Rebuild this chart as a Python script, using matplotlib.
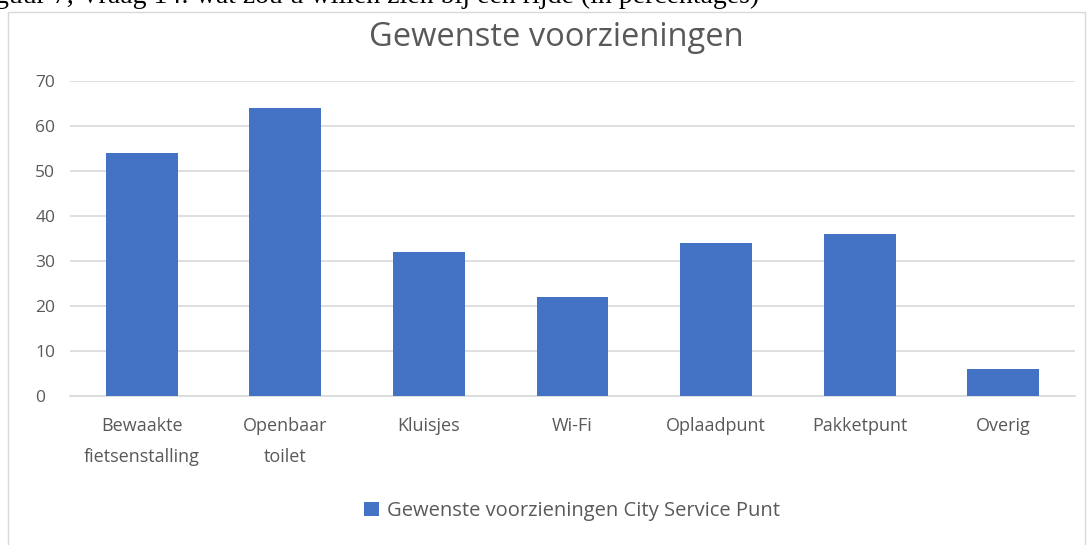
import matplotlib.pyplot as plt
from matplotlib.patches import Rectangle

categories = ['Bewaakte\nfietsenstalling', 'Openbaar\ntoilet', 'Kluisjes', 'Wi-Fi',
              'Oplaadpunt', 'Pakketpunt', 'Overig']
values = [54, 64, 32, 22, 34, 36, 6]
series_name = 'Gewenste voorzieningen City Service Punt'
title = 'Gewenste voorzieningen'
caption = 'guur 7, Vraag 14: wat zou u willen zien bij een rijde (in percentages)'

bar_color = '#4472C4'
text_color = '#595959'
grid_color = '#d9d9d9'

plt.rcParams['font.family'] = ['Open Sans', 'DejaVu Sans']

fig = plt.figure(figsize=(10.9, 5.45), dpi=100)

# chart frame (cut-off screenshot)
fig.patches.append(Rectangle((8 / 1090, -0.01), 1077 / 1090, 1 - 12 / 545 + 0.01,
                             transform=fig.transFigure, fill=False,
                             edgecolor='#d9d9d9', linewidth=1))
# cropped caption at the very top
fig.text(-0.005, 1 - 3 / 545, caption, family='Liberation Serif', fontsize=20,
         color='black', va='baseline', ha='left')

ax = fig.add_axes([70 / 1090, 1 - 396 / 545, 1005 / 1090, 315 / 545])
x = range(len(categories))
ax.bar(x, values, width=0.5, color=bar_color, label=series_name, zorder=3)
ax.set_xlim(-0.5, len(categories) - 0.5)
ax.set_ylim(0, 70)
ax.set_yticks(range(0, 71, 10))
ax.set_xticks(list(x))
ax.set_xticklabels(categories, fontsize=13, color=text_color, linespacing=1.95)
ax.tick_params(axis='y', labelsize=12.5, labelcolor=text_color, length=0, pad=25)
ax.tick_params(axis='x', length=0, pad=15)
for lbl in ax.get_yticklabels():
    lbl.set_horizontalalignment('left')
ax.yaxis.grid(True, color=grid_color, linewidth=1.2, zorder=0)
for s in ['top', 'right', 'left']:
    ax.spines[s].set_visible(False)
ax.spines['bottom'].set_color(grid_color)
ax.spines['bottom'].set_linewidth(1.2)

fig.text(556 / 1090, 1 - 37 / 545, title, fontsize=23.5, color=text_color,
         ha='center', va='center')

fig.legend(loc='center', bbox_to_anchor=(572 / 1090, 1 - 511 / 545), frameon=False,
           fontsize=14.5, labelcolor=text_color, handlelength=0.7, handleheight=0.7,
           handletextpad=0.4)

fig.savefig('out.png', dpi=100)
